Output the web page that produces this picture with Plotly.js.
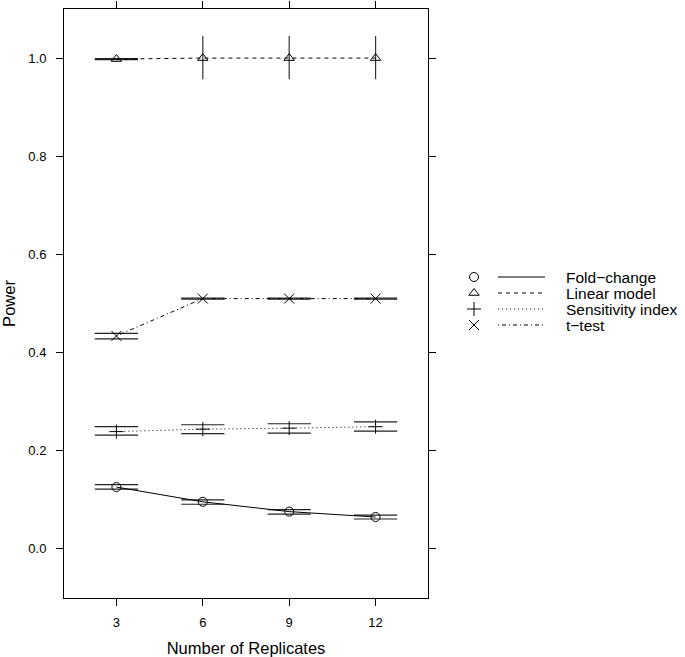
<!DOCTYPE html>
<html>
<head>
<meta charset="utf-8">
<script src="https://cdn.plot.ly/plotly-3.0.1.min.js"></script>
<style>html,body{margin:0;padding:0;background:#fff;}#chart{width:685px;height:657px;}</style>
</head>
<body>
<div id="chart"></div>
<script>
// ---- data ----
const replicates = [3, 6, 9, 12];
const seriesNames = ["Fold\u2212change", "Linear model", "Sensitivity index", "t\u2212test"];

const foldChange     = [0.126, 0.096, 0.076, 0.065];
const foldChangeLow  = [0.122, 0.091, 0.071, 0.061];
const foldChangeHigh = [0.131, 0.100, 0.080, 0.069];

const linearModel     = [0.998, 1.000, 1.000, 1.000];
const linearModelLow  = [0.997, null, null, null];
const linearModelHigh = [0.999, null, null, null];
const linearModelBarUp   = [0, 0.045, 0.045, 0.045];
const linearModelBarDown = [0, 0.043, 0.043, 0.043];

const sensitivity     = [0.239, 0.244, 0.246, 0.249];
const sensitivityLow  = [0.232, 0.235, 0.236, 0.240];
const sensitivityHigh = [0.249, 0.253, 0.255, 0.259];

const tTest     = [0.434, 0.510, 0.510, 0.510];
const tTestLow  = [0.428, 0.509, 0.509, 0.509];
const tTestHigh = [0.439, 0.511, 0.511, 0.511];

const yTicks = [0.0, 0.2, 0.4, 0.6, 0.8, 1.0];

// ---- style ----
const FONT = "Liberation Sans, Arial, Helvetica, sans-serif";
const HALF = 0.75;           // half width of the interval segments (x units)
const styles = [
  {symbol: "circle-open",        dash: "solid"},
  {symbol: "triangle-up-open",   dash: "4px,4px"},
  {symbol: "cross-thin-open",    dash: "1px,3px"},
  {symbol: "x-thin-open",        dash: "1px,3px,4px,3px"}
];
const values = [foldChange, linearModel, sensitivity, tTest];
const lows   = [foldChangeLow, linearModelLow, sensitivityLow, tTestLow];
const highs  = [foldChangeHigh, linearModelHigh, sensitivityHigh, tTestHigh];

function segTrace(bounds) {
  const xs = [], ys = [];
  bounds.forEach((b, i) => {
    if (b === null || b === undefined) return;
    xs.push(replicates[i] - HALF, replicates[i] + HALF, null);
    ys.push(b, b, null);
  });
  return {x: xs, y: ys, type: "scatter", mode: "lines", hoverinfo: "skip",
          line: {color: "#222", width: 1.2}, showlegend: false};
}

const traces = [];
for (let s = 0; s < 4; s++) {
  traces.push(segTrace(lows[s]));
  traces.push(segTrace(highs[s]));
}
for (let s = 0; s < 4; s++) {
  const t = {
    x: replicates, y: values[s], type: "scatter", mode: "lines+markers",
    name: seriesNames[s],
    line: {color: "black", width: 1, dash: styles[s].dash},
    marker: {symbol: styles[s].symbol, size: s === 2 || s === 3 ? 10 : 9, color: "black",
             line: {color: "black", width: 1}},
    showlegend: false
  };
  if (s === 1) {
    t.error_y = {type: "data", symmetric: false, array: linearModelBarUp,
                 arrayminus: linearModelBarDown, width: 0, thickness: 1.2, color: "#333"};
  }
  traces.push(t);
}

// ---- manual key (drawn on an auxiliary pixel-like axis) ----
const keyRows = [277, 293, 309, 325];
for (let s = 0; s < 4; s++) {
  traces.push({x: [474], y: [keyRows[s]], xaxis: "x2", yaxis: "y2", type: "scatter", mode: "markers",
    marker: {symbol: styles[s].symbol, size: s === 2 || s === 3 ? 10 : 9, color: "black",
             line: {color: "black", width: 1}}, hoverinfo: "skip", showlegend: false});
  traces.push({x: [498, 545], y: [keyRows[s], keyRows[s]], xaxis: "x2", yaxis: "y2", type: "scatter",
    mode: "lines", line: {color: "black", width: 1, dash: styles[s].dash}, hoverinfo: "skip", showlegend: false});
}
const annotations = seriesNames.map((n, s) => ({
  text: n, x: 564, y: keyRows[s], xref: "x2", yref: "y2", xanchor: "left", yanchor: "middle",
  showarrow: false, font: {family: FONT, size: 15.5, color: "black"}
}));

const plotW = 685 - 64;
const xDomEnd = 364 / plotW;

const axisCommon = {
  showline: true, linecolor: "black", linewidth: 1, mirror: "ticks",
  ticks: "outside", ticklen: 7, tickwidth: 1, tickcolor: "black",
  showgrid: false, zeroline: false, fixedrange: true,
  tickfont: {family: FONT, size: 13, color: "black"}
};

const layout = {
  width: 685, height: 657,
  margin: {l: 64, r: 0, t: 9, b: 59, pad: 0},
  paper_bgcolor: "white", plot_bgcolor: "white",
  showlegend: false,
  font: {family: FONT, color: "black"},
  xaxis: Object.assign({}, axisCommon, {
    domain: [0, xDomEnd], range: [1.18, 13.82], tickvals: replicates,
    ticktext: replicates.map(String), ticklabelstandoff: 5,
    title: {text: "Number of Replicates", font: {family: FONT, size: 16.5, color: "black"}, standoff: 14}
  }),
  yaxis: Object.assign({}, axisCommon, {
    domain: [0, 1], range: [-0.1, 1.1], tickvals: yTicks,
    ticktext: yTicks.map(v => v.toFixed(1)), ticklabelstandoff: 7,
    title: {text: "Power", font: {family: FONT, size: 16.5, color: "black"}, standoff: 8}
  }),
  xaxis2: {domain: [xDomEnd, 1], range: [428, 685], visible: false, anchor: "y2", fixedrange: true},
  yaxis2: {domain: [0, 1], range: [598, 9], visible: false, anchor: "x2", fixedrange: true},
  annotations: annotations
};

Plotly.newPlot("chart", traces, layout, {displayModeBar: false, staticPlot: true});
</script>
</body>
</html>
